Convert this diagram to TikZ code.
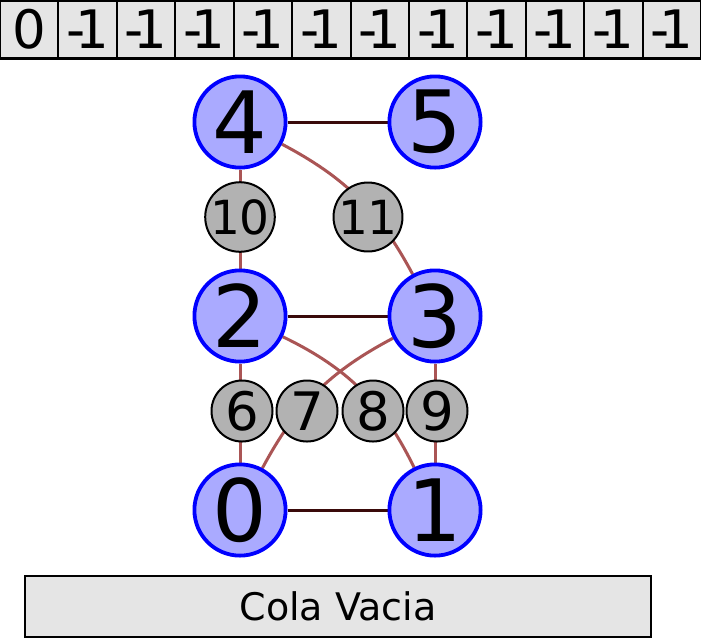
\documentclass[tikz,border=0pt]{standalone}
\usepackage{fontspec}
\setmainfont{DejaVu Sans}
\usetikzlibrary{positioning,backgrounds}

\definecolor{vertexfill}{HTML}{AAAAFF}
\definecolor{treeline}{HTML}{3A0A0A}
\definecolor{linkline}{HTML}{AA5555}

\begin{document}
\begin{tikzpicture}[
    x=0.5pt,y=-0.5pt,
    vertex/.style={
        circle,
        draw=blue,
        fill=vertexfill,
        line width=1.9pt,
        minimum size=45.6pt,
        inner sep=0pt,
        font=\fontsize{43}{43}\selectfont,
    },
    edgeid/.style={
        circle,
        draw=black,
        fill=gray!60,
        line width=1pt,
        minimum size=30.5pt,
        inner sep=0pt,
        font=\fontsize{26.5}{26.5}\selectfont,
    },
    cell/.style={
        draw=black,
        fill=gray!20,
        line width=1pt,
        minimum width=29.2pt,
        minimum height=28.5pt,
        inner sep=0pt,
        font=\fontsize{26.5}{26.5}\selectfont,
    },
    treeedge/.style={line width=1.5pt,color=treeline},
    linkedge/.style={line width=1.5pt,color=linkline},
]
\useasboundingbox (0,0) rectangle (701,639);

% array of labels
\foreach \i in {0,...,11}{
    \node[cell] (c\i) at ({58.42*\i+29.2},29) {\ifnum\i=0 0\else-\kern-.2em1\fi};
}
\draw[line width=1.5pt] (c0.north west) rectangle (c11.south east);

% vertices
\node[vertex] (v4) at (240,122) {4};
\node[vertex] (v5) at (435,122) {5};
\node[vertex] (v2) at (240,316) {2};
\node[vertex] (v3) at (435,316) {3};
\node[vertex] (v0) at (240,510) {0};
\node[vertex] (v1) at (435,510) {1};

% edge numbers
\node[edgeid,font=\fontsize{23.5}{23.5}\selectfont] (e10) at (240,217) {10};
\node[edgeid,font=\fontsize{23.5}{23.5}\selectfont] (e11) at (368,217) {11};
\node[edgeid] (e6) at (242,411) {6};
\node[edgeid] (e7) at (307,411) {7};
\node[edgeid] (e8) at (373,411) {8};
\node[edgeid] (e9) at (437,411) {9};

\begin{pgfonlayer}{background}
\draw[treeedge] (v4) -- (v5);
\draw[treeedge] (v2) -- (v3);
\draw[treeedge] (v0) -- (v1);
\draw[linkedge] (v4) -- (v2);
\draw[linkedge] (v2) -- (v0);
\draw[linkedge] (v3) -- (v1);
\draw[linkedge] (v4) to[bend left=17] (v3);
\draw[linkedge] (v0) to[bend left=17] (v3);
\draw[linkedge] (v2) to[bend left=19] (v1);
\end{pgfonlayer}

% queue
\node[draw=black,fill=gray!20,line width=1pt,minimum width=313pt,minimum height=30.5pt,
    inner sep=0pt,font=\fontsize{19}{19}\selectfont] (queue) at (338,606.5) {Cola Vacia};
\end{tikzpicture}
\end{document}
